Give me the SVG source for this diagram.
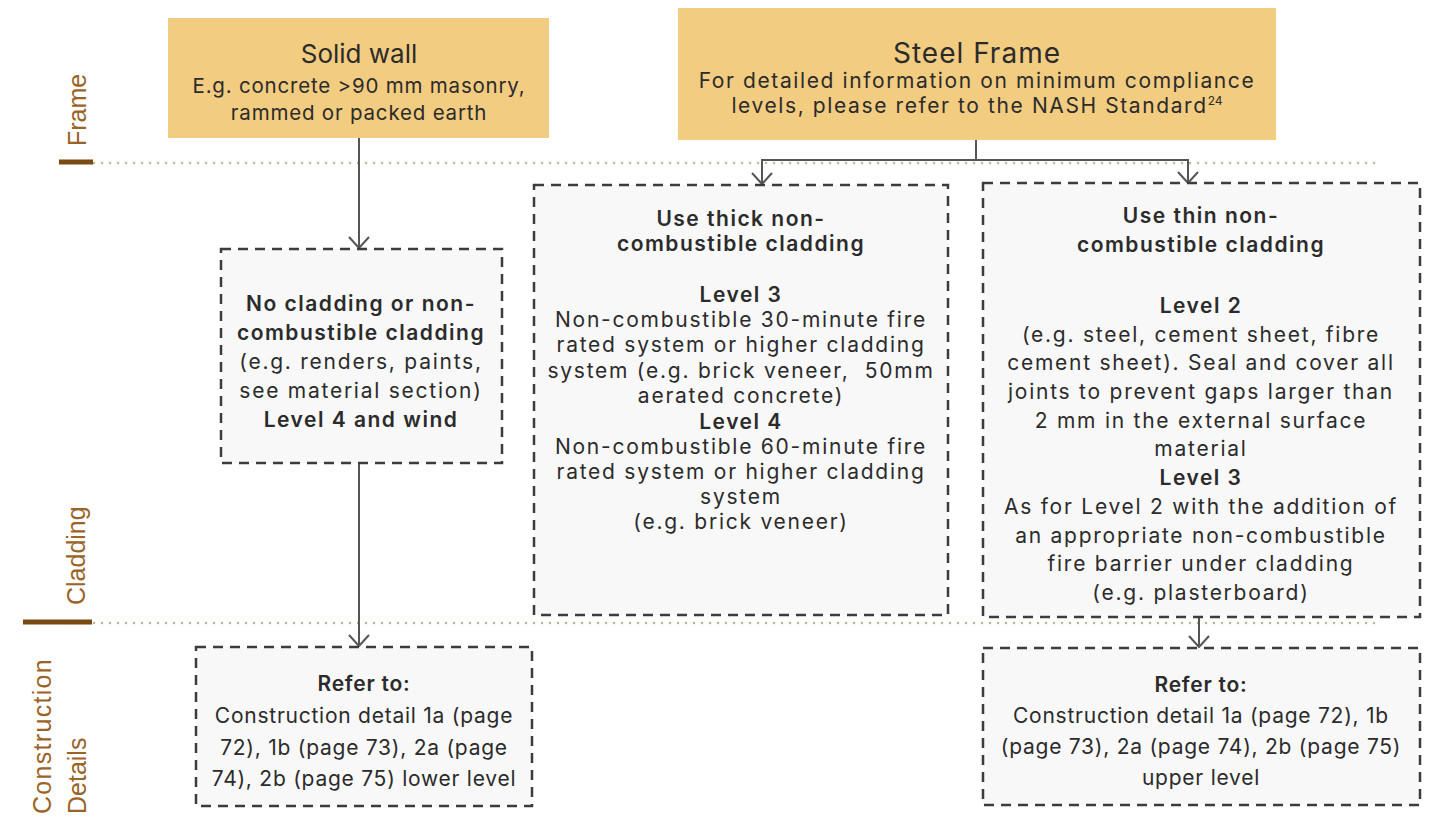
<svg xmlns="http://www.w3.org/2000/svg" width="1429" height="824" viewBox="0 0 1429 824">
<style>
.bg{fill:#ffffff}
.frame{fill:#f2cc80}
.box{fill:#f8f8f8;stroke:#3c3c3c;stroke-width:2.5;stroke-dasharray:10 7}
.t{font-family:Inter,"Noto Sans",sans-serif;fill:#2b2b2b;text-anchor:middle;font-size:21px;letter-spacing:1.75px}
.b{font-weight:600;letter-spacing:1.5px}
.r{letter-spacing:0.75px}
.s{font-size:20.5px;letter-spacing:0.8px}
.lbl{font-family:"Liberation Sans",Arial,sans-serif;fill:#9a6328;font-size:25px}
.conn{fill:none;stroke:#555555;stroke-width:2}
.dots{stroke:#bdb693;stroke-width:2.5;stroke-linecap:round;stroke-dasharray:0 8}
.bar{stroke:#7b4a12;stroke-width:5}
</style>
<defs>
<marker id="arr" markerUnits="userSpaceOnUse" viewBox="0 0 14 24" refX="12" refY="12" markerWidth="14" markerHeight="24" orient="auto">
<path d="M1,2 L12,12 L1,22" fill="none" stroke="#555555" stroke-width="2"/>
</marker>
</defs>
<rect class="bg" x="0" y="0" width="1429" height="824"/>

<g id="guides">
<line class="dots" x1="70" y1="163" x2="1378" y2="163"/>
<line class="dots" x1="70" y1="623" x2="1378" y2="623"/>
<line class="bar" x1="59" y1="162" x2="93" y2="162"/>
<line class="bar" x1="23" y1="622" x2="92" y2="622"/>
<text class="lbl" transform="translate(86,146) rotate(-90)">Frame</text>
<text class="lbl" transform="translate(85,605) rotate(-90)">Cladding</text>
<text class="lbl" transform="translate(51,814) rotate(-90)" style="letter-spacing:1.3px">Construction</text>
<text class="lbl" transform="translate(86,814) rotate(-90)">Details</text>
</g>

<g id="connectors">
<path class="conn" d="M359,138 V248" marker-end="url(#arr)"/>
<path class="conn" d="M359,463 V646" marker-end="url(#arr)"/>
<path class="conn" d="M976,140 V160 H762 V184" marker-end="url(#arr)"/>
<path class="conn" d="M976,160 H1188 V183" marker-end="url(#arr)"/>
<path class="conn" d="M1199,617 V647" marker-end="url(#arr)"/>
</g>

<g id="solid-wall">
<rect class="frame" x="168" y="18" width="381" height="120"/>
<text class="t" x="359" y="63" style="font-size:26px;letter-spacing:0">Solid wall</text>
<text class="t s" x="359" y="93">E.g. concrete &gt;90 mm masonry,</text>
<text class="t s" x="359" y="120">rammed or packed earth</text>
</g>

<g id="steel-frame">
<rect class="frame" x="678" y="8" width="598" height="132"/>
<text class="t" x="977" y="63" style="font-size:28px;letter-spacing:1px">Steel Frame</text>
<text class="t" x="977" y="88" style="letter-spacing:1.6px">For detailed information on minimum compliance</text>
<text class="t" x="977" y="113" style="letter-spacing:1.6px">levels, please refer to the NASH Standard<tspan style="font-size:12px;letter-spacing:0" dy="-8">24</tspan></text>
</g>

<g id="no-cladding">
<rect class="box" x="221" y="249" width="281" height="214"/>
<text class="t b" x="361" y="311">No cladding or non-</text>
<text class="t b" x="361" y="340">combustible cladding</text>
<text class="t" x="361" y="369">(e.g. renders, paints,</text>
<text class="t" x="361" y="398">see material section)</text>
<text class="t b" x="361" y="427">Level 4 and wind</text>
</g>

<g id="thick-cladding">
<rect class="box" x="534" y="185" width="414" height="430"/>
<text class="t b" x="741" y="226">Use thick non-</text>
<text class="t b" x="741" y="251">combustible cladding</text>
<text class="t b" x="741" y="302">Level 3</text>
<text class="t" x="741" y="327">Non-combustible 30-minute fire</text>
<text class="t" x="741" y="352">rated system or higher cladding</text>
<text class="t" x="741" y="378">system (e.g. brick veneer,&#160; 50mm</text>
<text class="t" x="741" y="403">aerated concrete)</text>
<text class="t b" x="741" y="429">Level 4</text>
<text class="t" x="741" y="454">Non-combustible 60-minute fire</text>
<text class="t" x="741" y="479">rated system or higher cladding</text>
<text class="t" x="741" y="504">system</text>
<text class="t" x="741" y="529">(e.g. brick veneer)</text>
</g>

<g id="thin-cladding">
<rect class="box" x="983" y="183" width="437" height="434"/>
<text class="t b" x="1201" y="223">Use thin non-</text>
<text class="t b" x="1201" y="252">combustible cladding</text>
<text class="t b" x="1201" y="313">Level 2</text>
<text class="t" x="1201" y="342">(e.g. steel, cement sheet, fibre</text>
<text class="t" x="1201" y="370">cement sheet). Seal and cover all</text>
<text class="t" x="1201" y="399">joints to prevent gaps larger than</text>
<text class="t" x="1201" y="428">2 mm in the external surface</text>
<text class="t" x="1201" y="456">material</text>
<text class="t b" x="1201" y="485">Level 3</text>
<text class="t" x="1201" y="514">As for Level 2 with the addition of</text>
<text class="t" x="1201" y="543">an appropriate non-combustible</text>
<text class="t" x="1201" y="571">fire barrier under cladding</text>
<text class="t" x="1201" y="600">(e.g. plasterboard)</text>
</g>

<g id="refer-lower">
<rect class="box" x="196" y="647" width="336" height="159"/>
<text class="t b r" x="364" y="691">Refer to:</text>
<text class="t r" x="364" y="723">Construction detail 1a (page</text>
<text class="t r" x="364" y="755">72), 1b (page 73), 2a (page</text>
<text class="t r" x="364" y="786">74), 2b (page 75) lower level</text>
</g>

<g id="refer-upper">
<rect class="box" x="983" y="648" width="437" height="157"/>
<text class="t b r" x="1201" y="692">Refer to:</text>
<text class="t r" x="1201" y="723">Construction detail 1a (page 72), 1b</text>
<text class="t r" x="1201" y="754">(page 73), 2a (page 74), 2b (page 75)</text>
<text class="t r" x="1201" y="785">upper level</text>
</g>
</svg>
